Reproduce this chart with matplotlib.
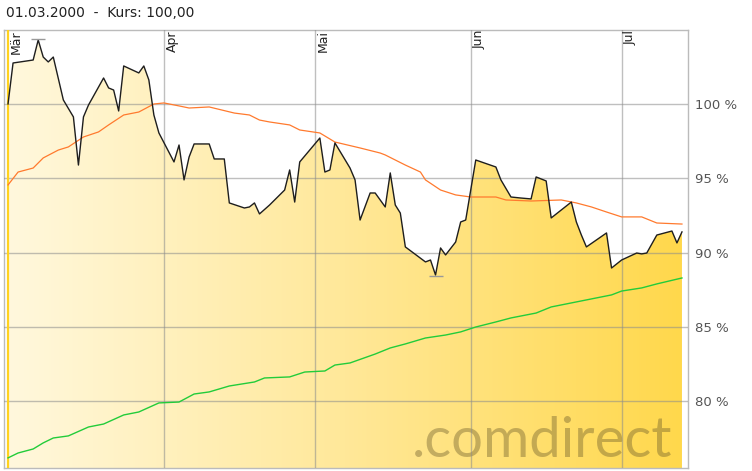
import numpy as np
import pandas as pd
import matplotlib
matplotlib.use("Agg")
import matplotlib.pyplot as plt
import matplotlib.dates as mdates
import matplotlib.transforms as mtransforms
from matplotlib.colors import LinearSegmentedColormap

# price, indexed to 100 on 01.03.2000
kurs_dates = ["2000-03-01", "2000-03-02", "2000-03-06", "2000-03-07", "2000-03-08", "2000-03-09",
              "2000-03-10", "2000-03-12", "2000-03-14", "2000-03-15", "2000-03-16", "2000-03-17",
              "2000-03-20", "2000-03-21", "2000-03-22", "2000-03-23", "2000-03-24", "2000-03-27",
              "2000-03-28", "2000-03-29", "2000-03-30", "2000-03-31", "2000-04-03", "2000-04-04",
              "2000-04-05", "2000-04-06", "2000-04-07", "2000-04-10", "2000-04-11", "2000-04-13",
              "2000-04-14", "2000-04-17", "2000-04-18", "2000-04-19", "2000-04-20", "2000-04-22",
              "2000-04-25", "2000-04-26", "2000-04-27", "2000-04-28", "2000-05-02", "2000-05-03",
              "2000-05-04", "2000-05-05", "2000-05-08", "2000-05-09", "2000-05-10", "2000-05-12",
              "2000-05-13", "2000-05-14", "2000-05-15", "2000-05-16", "2000-05-17", "2000-05-18",
              "2000-05-19", "2000-05-23", "2000-05-24", "2000-05-25", "2000-05-26", "2000-05-27",
              "2000-05-29", "2000-05-30", "2000-05-31", "2000-06-02", "2000-06-06", "2000-06-07",
              "2000-06-09", "2000-06-11", "2000-06-13", "2000-06-14", "2000-06-16", "2000-06-17",
              "2000-06-21", "2000-06-22", "2000-06-23", "2000-06-24", "2000-06-28", "2000-06-29",
              "2000-07-01", "2000-07-04", "2000-07-05", "2000-07-06", "2000-07-08", "2000-07-11",
              "2000-07-12", "2000-07-13"]
kurs = [100.00, 102.76, 102.96, 104.31, 103.16, 102.83,
        103.16, 100.27, 99.13, 95.89, 99.13, 99.93,
        101.75, 101.08, 100.94, 99.53, 102.56, 102.09,
        102.56, 101.62, 99.26, 98.05, 96.10, 97.24,
        94.89, 96.43, 97.31, 97.31, 96.30, 96.30,
        93.34, 93.00, 93.07, 93.34, 92.60, 93.20,
        94.21, 95.56, 93.40, 96.10, 97.71, 95.42,
        95.56, 97.38, 95.69, 94.89, 92.19, 94.01,
        94.01, 93.54, 93.07, 95.36, 93.20, 92.66,
        90.38, 89.37, 89.50, 88.49, 90.31, 89.84,
        90.71, 92.06, 92.19, 96.23, 95.76, 94.89,
        93.74, 93.67, 93.61, 95.09, 94.82, 92.33,
        93.40, 92.06, 91.18, 90.38, 91.32, 88.96,
        89.50, 89.97, 89.91, 89.97, 91.18, 91.45,
        90.65, 91.39]

# moving average (orange)
avg_dates = ["2000-03-01", "2000-03-03", "2000-03-06", "2000-03-08", "2000-03-11", "2000-03-13",
             "2000-03-16", "2000-03-19", "2000-03-21", "2000-03-24", "2000-03-27", "2000-03-30",
             "2000-04-01", "2000-04-04", "2000-04-06", "2000-04-10", "2000-04-15", "2000-04-18",
             "2000-04-20", "2000-04-22", "2000-04-26", "2000-04-28", "2000-05-02", "2000-05-05",
             "2000-05-10", "2000-05-14", "2000-05-15", "2000-05-19", "2000-05-22", "2000-05-23",
             "2000-05-26", "2000-05-29", "2000-06-01", "2000-06-06", "2000-06-08", "2000-06-13",
             "2000-06-19", "2000-06-22", "2000-06-25", "2000-06-28", "2000-07-01", "2000-07-05",
             "2000-07-08", "2000-07-13"]
avg = [94.55, 95.42, 95.69, 96.37, 96.90, 97.11,
       97.78, 98.12, 98.59, 99.26, 99.46, 100.00,
       100.07, 99.87, 99.73, 99.80, 99.39, 99.26,
       98.92, 98.79, 98.59, 98.25, 98.05, 97.44,
       97.04, 96.70, 96.57, 95.89, 95.42, 94.89,
       94.21, 93.88, 93.74, 93.74, 93.54, 93.47,
       93.54, 93.34, 93.07, 92.73, 92.40, 92.40,
       91.99, 91.92]

# comparison line (green)
cmp_dates = ["2000-03-01", "2000-03-03", "2000-03-06", "2000-03-08", "2000-03-10", "2000-03-13",
             "2000-03-17", "2000-03-20", "2000-03-24", "2000-03-27", "2000-03-31", "2000-04-04",
             "2000-04-07", "2000-04-10", "2000-04-14", "2000-04-19", "2000-04-21", "2000-04-26",
             "2000-04-29", "2000-05-03", "2000-05-05", "2000-05-08", "2000-05-13", "2000-05-16",
             "2000-05-19", "2000-05-23", "2000-05-27", "2000-05-30", "2000-06-02", "2000-06-06",
             "2000-06-09", "2000-06-14", "2000-06-17", "2000-06-21", "2000-06-25", "2000-06-29",
             "2000-07-01", "2000-07-05", "2000-07-08", "2000-07-13"]
cmp = [76.18, 76.51, 76.78, 77.19, 77.52, 77.66,
       78.26, 78.46, 79.07, 79.27, 79.88, 79.94,
       80.48, 80.62, 81.02, 81.29, 81.56, 81.63,
       81.96, 82.03, 82.43, 82.57, 83.17, 83.58,
       83.85, 84.25, 84.45, 84.66, 84.99, 85.33,
       85.60, 85.93, 86.34, 86.61, 86.88, 87.15,
       87.41, 87.62, 87.89, 88.29]

y_ticks = [80, 85, 90, 95, 100]
month_starts = ["2000-03-01", "2000-04-01", "2000-05-01", "2000-06-01", "2000-07-01"]
month_labels = ["Mär", "Apr", "Mai", "Jun", "Jul"]
title = "01.03.2000  -  Kurs: 100,00"

kx = mdates.date2num(pd.to_datetime(kurs_dates))
ky = np.array(kurs)
ax_ = mdates.date2num(pd.to_datetime(avg_dates))
cx = mdates.date2num(pd.to_datetime(cmp_dates))
mx = mdates.date2num(pd.to_datetime(month_starts))

fig = plt.figure(figsize=(7.52, 4.71), dpi=100)
ax = fig.add_axes([4 / 752, 3 / 471, 684 / 752, 438 / 471])
x0 = kx[0]
ax.set_xlim(x0 - 0.8, x0 + 135.2)
ax.set_ylim(75.5, 104.98)

# gradient fill under price line
ylo = ax.get_ylim()[0]
poly = ax.fill_between(kx, ky, ylo, color="none", lw=0)
cmap = LinearSegmentedColormap.from_list("gold", ["#fff8dd", "#ffe899", "#ffd84c"])
grad = np.linspace(0, 1, 256).reshape(1, -1)
im = ax.imshow(grad, cmap=cmap, aspect="auto", extent=[kx[0], kx[-1], ylo, ky.max()],
               zorder=1, interpolation="bilinear")
path = poly.get_paths()[0]
im.set_clip_path(path, transform=ax.transData)

# watermark
ax.text(0.597, 0.024, ".comdirect", transform=ax.transAxes, fontsize=40.5,
        family="Lato", color="#6b5a2a", alpha=0.4, ha="left", va="baseline", zorder=1.5)

# grid
ax.set_yticks(y_ticks)
ax.set_xticks(mx[1:])
ax.set_xticklabels([])
ax.grid(True, color="#8c8c8c", alpha=0.55, lw=1.0, zorder=2)
ax.set_axisbelow(False)
ax.tick_params(axis="both", length=0)
ax.yaxis.tick_right()
ax.set_yticklabels([f"{t} %" for t in y_ticks], fontsize=9.5, color="#555555")
ax.tick_params(axis="y", pad=5)

# cursor line at selected date
ax.axvline(mx[0], color="#ffd21f", lw=1.6, zorder=2.6)

ax.plot(cx, cmp, color="#22cc3a", lw=1.0, zorder=3)
ax.plot(ax_, avg, color="#ff7a2e", lw=0.9, zorder=3)
ax.plot(kx, ky, color="#1e1e1e", lw=1.0, zorder=4)

# high / low markers
imax, imin = int(np.argmax(ky)), int(np.argmin(ky))
ax.plot([kx[imax]], [ky[imax] + 0.08], marker="_", ms=10, mew=1, color="#999999", zorder=4)
ax.plot([kx[imin]], [ky[imin] - 0.1], marker="_", ms=10, mew=1, color="#999999", zorder=4)

trans = mtransforms.blended_transform_factory(ax.transData, ax.transAxes)
for m, lab in zip(mx, month_labels):
    ax.text(m + 0.4, 1.0, lab, transform=trans, rotation=90, ha="left", va="top",
            fontsize=9, color="#222222", zorder=5)

for s in ax.spines.values():
    s.set_color("#bbbbbb")
    s.set_linewidth(1.0)

fig.text(6 / 752, 1 - 13 / 471, title, fontsize=10, color="#222222", ha="left", va="center")

fig.savefig("out.png", dpi=100)
